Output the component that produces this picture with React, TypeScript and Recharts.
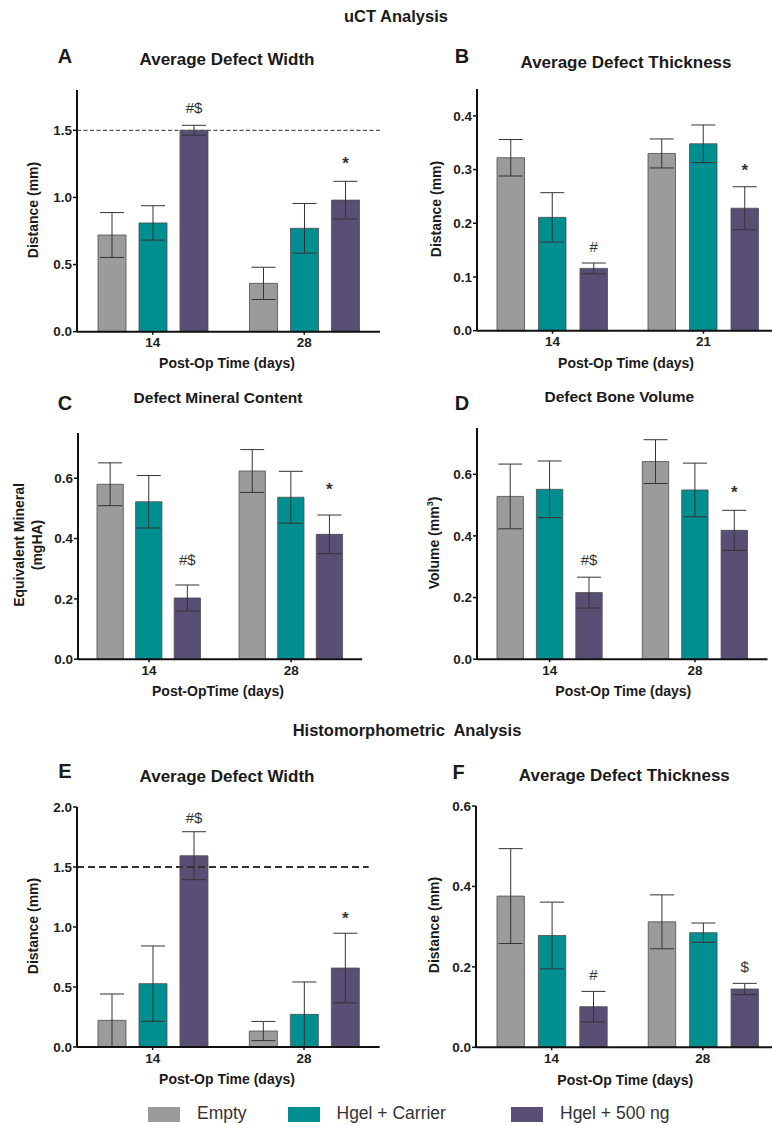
import React from 'react';
import { BarChart, Bar, XAxis, YAxis, ErrorBar, LabelList, ReferenceLine } from 'recharts';

const FONT = '"Liberation Sans", Arial, Helvetica, sans-serif';

const GROUPS = ['Empty', 'Hgel + Carrier', 'Hgel + 500 ng'];
const COLORS = ['#9b9b9b', '#008f91', '#594f75'];

const days14_28 = ['14', '28'];
const days14_21 = ['14', '21'];

// A - uCT average defect width (mean / sem per group, per day)
const ctWidthMean = [[0.72, 0.36], [0.81, 0.77], [1.5, 0.98]];
const ctWidthErr = [[0.167, 0.12], [0.128, 0.185], [0.037, 0.14]];
const ctWidthMarks = ['#$', '*'];

// B - uCT average defect thickness
const ctThickMean = [[0.322, 0.33], [0.211, 0.348], [0.116, 0.228]];
const ctThickErr = [[0.034, 0.027], [0.046, 0.035], [0.01, 0.04]];
const ctThickMarks = ['#', '*'];

// C - defect mineral content
const mineralMean = [[0.58, 0.624], [0.522, 0.537], [0.203, 0.414]];
const mineralErr = [[0.071, 0.071], [0.087, 0.086], [0.043, 0.064]];
const mineralMarks = ['#$', '*'];

// D - defect bone volume
const volumeMean = [[0.528, 0.641], [0.551, 0.549], [0.216, 0.418]];
const volumeErr = [[0.105, 0.071], [0.092, 0.087], [0.05, 0.065]];
const volumeMarks = ['#$', '*'];

// E - histomorphometric average defect width
const histWidthMean = [[0.222, 0.133], [0.528, 0.272], [1.594, 0.658]];
const histWidthErr = [[0.22, 0.08], [0.314, 0.27], [0.2, 0.29]];
const histWidthMarks = ['#$', '*'];

// F - histomorphometric average defect thickness
const histThickMean = [[0.376, 0.312], [0.278, 0.285], [0.101, 0.145]];
const histThickErr = [[0.118, 0.067], [0.083, 0.024], [0.038, 0.014]];
const histThickMarks = ['#', '$'];

const YW = 50;
const MT = 12;
const MR = 2;
const XH = 30;

function buildRows(days: string[], mean: number[][], err: number[][], marks: string[]) {
  return days.map((day, i) => ({
    day,
    s0: mean[0][i], e0: err[0][i],
    s1: mean[1][i], e1: err[1][i],
    s2: mean[2][i], e2: err[2][i],
    mark: marks[i],
  }));
}

const markLabel = (rows: any[], gap: number) => (props: any) => {
  const vb = props.viewBox && props.viewBox.width != null ? props.viewBox : props;
  let idx = props.index;
  if (idx == null) idx = rows.findIndex((r) => r.s2 === props.value);
  const row = rows[idx];
  if (!row || !vb.height) return null;
  const errTop = vb.y - row.e2 * (vb.height / row.s2);
  const star = row.mark === '*';
  return (
    <text
      x={vb.x + vb.width / 2}
      y={errTop - gap}
      textAnchor="middle"
      fontSize={star ? 17 : 15}
      fontWeight={star ? 700 : 400}
      fill="#333"
      fontFamily={FONT}
    >
      {row.mark}
    </text>
  );
};

const dashShape = (extend: number, dash: string, sw: number, color: string) => (p: any) => (
  <line x1={p.x1} y1={p.y1} x2={p.x2 + extend} y2={p.y2} stroke={color} strokeWidth={sw} strokeDasharray={dash} />
);

interface PanelProps {
  days: string[];
  mean: number[][];
  err: number[][];
  marks: string[];
  axisX: number;
  right: number;
  top: number;
  zero: number;
  max: number;
  ticks: number[];
  barSize: number;
  barGap: number;
  markGap: number;
  refLine?: { value: number; extend: number; dash: string; width: number; color: string };
}

function Panel(p: PanelProps) {
  const rows = buildRows(p.days, p.mean, p.err, p.marks);
  const width = p.right - p.axisX + YW + MR;
  const height = p.zero - p.top + MT + XH;
  const tickStyle = { fontSize: 13.5, fontWeight: 700, fill: '#1e1e1e', fontFamily: FONT };
  return (
    <div style={{ position: 'absolute', left: p.axisX - YW, top: p.top - MT }}>
      <BarChart
        width={width}
        height={height}
        data={rows}
        margin={{ top: MT, right: MR, left: 0, bottom: 0 }}
        barSize={p.barSize}
        barGap={p.barGap}
      >
        <XAxis
          dataKey="day"
          height={XH}
          interval={0}
          tick={tickStyle}
          tickSize={3}
          tickMargin={3}
          axisLine={{ stroke: '#111', strokeWidth: 2 }}
          tickLine={{ stroke: '#111', strokeWidth: 1.5 }}
        />
        <YAxis
          width={YW}
          type="number"
          domain={[0, p.max]}
          ticks={p.ticks}
          interval={0}
          tickFormatter={(v: number) => v.toFixed(1)}
          tick={tickStyle}
          tickSize={4}
          tickMargin={1}
          axisLine={{ stroke: '#111', strokeWidth: 2 }}
          tickLine={{ stroke: '#111', strokeWidth: 1.5 }}
        />
        {[0, 1, 2].map((g) => (
          <Bar
            key={g}
            dataKey={`s${g}`}
            name={GROUPS[g]}
            fill={COLORS[g]}
            stroke="#4d4d4d"
            strokeWidth={0.8}
            isAnimationActive={false}
          >
            <ErrorBar dataKey={`e${g}`} width={12} stroke="#333" strokeWidth={1} isAnimationActive={false} />
            {g === 2 && <LabelList dataKey="s2" content={markLabel(rows, p.markGap)} />}
          </Bar>
        ))}
        {p.refLine && (
          <ReferenceLine
            y={p.refLine.value}
            shape={dashShape(p.refLine.extend, p.refLine.dash, p.refLine.width, p.refLine.color)}
          />
        )}
      </BarChart>
    </div>
  );
}

function Txt({ x, y, size, bold = true, rotate = false, color = '#1a1a1a', children }: any) {
  return (
    <div
      style={{
        position: 'absolute',
        left: x,
        top: y,
        transform: `translate(-50%, -50%)${rotate ? ' rotate(-90deg)' : ''}`,
        fontSize: size,
        fontWeight: bold ? 700 : 400,
        whiteSpace: 'pre',
        lineHeight: 1,
        color,
        fontFamily: FONT,
      }}
    >
      {children}
    </div>
  );
}

function Swatch({ x, color, label }: { x: number; color: string; label: string }) {
  return (
    <>
      <div style={{ position: 'absolute', left: x, top: 1106.5, width: 32, height: 15.5, background: color }} />
      <div
        style={{
          position: 'absolute',
          left: x + 49,
          top: 1114,
          transform: 'translateY(-50%)',
          fontSize: 17.5,
          lineHeight: 1,
          color: '#333',
          fontFamily: FONT,
          whiteSpace: 'nowrap',
        }}
      >
        {label}
      </div>
    </>
  );
}

export default function App() {
  return (
    <div
      style={{
        position: 'absolute',
        left: 0,
        top: 0,
        width: 772,
        height: 1125,
        overflow: 'hidden',
        background: '#fff',
        fontFamily: FONT,
      }}
    >
      <Txt x={396} y={16} size={16.5}>uCT Analysis</Txt>
      <Txt x={407} y={730} size={16.5}>{'Histomorphometric  Analysis'}</Txt>

      {/* A */}
      <Txt x={65} y={56} size={20}>A</Txt>
      <Txt x={227} y={59} size={17}>Average Defect Width</Txt>
      <Txt x={33} y={210} size={14} rotate>Distance (mm)</Txt>
      <Txt x={227} y={363} size={14}>Post-Op Time (days)</Txt>
      <Panel
        days={days14_28} mean={ctWidthMean} err={ctWidthErr} marks={ctWidthMarks}
        axisX={77} right={380} top={90} zero={331.7} max={1.8} ticks={[0, 0.5, 1, 1.5]}
        barSize={28} barGap={13} markGap={12}
        refLine={{ value: 1.5, extend: 6, dash: '4 2.5', width: 1.3, color: '#555' }}
      />

      {/* B */}
      <Txt x={462} y={56} size={20}>B</Txt>
      <Txt x={626} y={62} size={17}>Average Defect Thickness</Txt>
      <Txt x={436} y={209} size={14} rotate>Distance (mm)</Txt>
      <Txt x={626} y={362.7} size={14}>Post-Op Time (days)</Txt>
      <Panel
        days={days14_21} mean={ctThickMean} err={ctThickErr} marks={ctThickMarks}
        axisX={477} right={779} top={89.3} zero={331} max={0.45} ticks={[0, 0.1, 0.2, 0.3, 0.4]}
        barSize={27.5} barGap={14} markGap={11}
      />

      {/* C */}
      <Txt x={65} y={403} size={20}>C</Txt>
      <Txt x={218} y={398} size={15.5}>Defect Mineral Content</Txt>
      <Txt x={18.5} y={545} size={14} rotate>Equivalent Mineral</Txt>
      <Txt x={37} y={545} size={14} rotate>(mgHA)</Txt>
      <Txt x={218} y={690.7} size={14}>Post-OpTime (days)</Txt>
      <Panel
        days={days14_28} mean={mineralMean} err={mineralErr} marks={mineralMarks}
        axisX={77.5} right={361.7} top={433.1} zero={659.3} max={0.75} ticks={[0, 0.2, 0.4, 0.6]}
        barSize={26.3} barGap={12.3} markGap={20}
      />

      {/* D */}
      <Txt x={462} y={403} size={20}>D</Txt>
      <Txt x={619.3} y={397} size={15.5}>Defect Bone Volume</Txt>
      <Txt x={432.7} y={542.5} size={14} rotate>
        <span>
          Volume (mm<sup style={{ fontSize: 9, verticalAlign: 'super' }}>3</sup>)
        </span>
      </Txt>
      <Txt x={623.3} y={690.7} size={14}>Post-Op Time (days)</Txt>
      <Panel
        days={days14_28} mean={volumeMean} err={volumeErr} marks={volumeMarks}
        axisX={477} right={767.6} top={428.1} zero={659.3} max={0.75} ticks={[0, 0.2, 0.4, 0.6]}
        barSize={26.4} barGap={13} markGap={12}
      />

      {/* E */}
      <Txt x={65} y={771} size={20}>E</Txt>
      <Txt x={227} y={775.7} size={17}>Average Defect Width</Txt>
      <Txt x={33} y={925.7} size={14} rotate>Distance (mm)</Txt>
      <Txt x={227} y={1079} size={14}>Post-Op Time (days)</Txt>
      <Panel
        days={days14_28} mean={histWidthMean} err={histWidthErr} marks={histWidthMarks}
        axisX={77.3} right={380} top={807.3} zero={1047.3} max={2} ticks={[0, 0.5, 1, 1.5, 2]}
        barSize={28} barGap={13} markGap={9}
        refLine={{ value: 1.5, extend: -11, dash: '7 4', width: 2, color: '#333' }}
      />

      {/* F */}
      <Txt x={458.7} y={771.7} size={20}>F</Txt>
      <Txt x={624.3} y={775} size={17}>Average Defect Thickness</Txt>
      <Txt x={434.3} y={925} size={14} rotate>Distance (mm)</Txt>
      <Txt x={625.3} y={1080} size={14}>Post-Op Time (days)</Txt>
      <Panel
        days={days14_28} mean={histThickMean} err={histThickErr} marks={histThickMarks}
        axisX={475.5} right={778} top={806} zero={1047.3} max={0.6} ticks={[0, 0.2, 0.4, 0.6]}
        barSize={27.4} barGap={14} markGap={11}
      />

      <Swatch x={148} color={COLORS[0]} label={GROUPS[0]} />
      <Swatch x={287.5} color={COLORS[1]} label={GROUPS[1]} />
      <Swatch x={511} color={COLORS[2]} label={GROUPS[2]} />
    </div>
  );
}
